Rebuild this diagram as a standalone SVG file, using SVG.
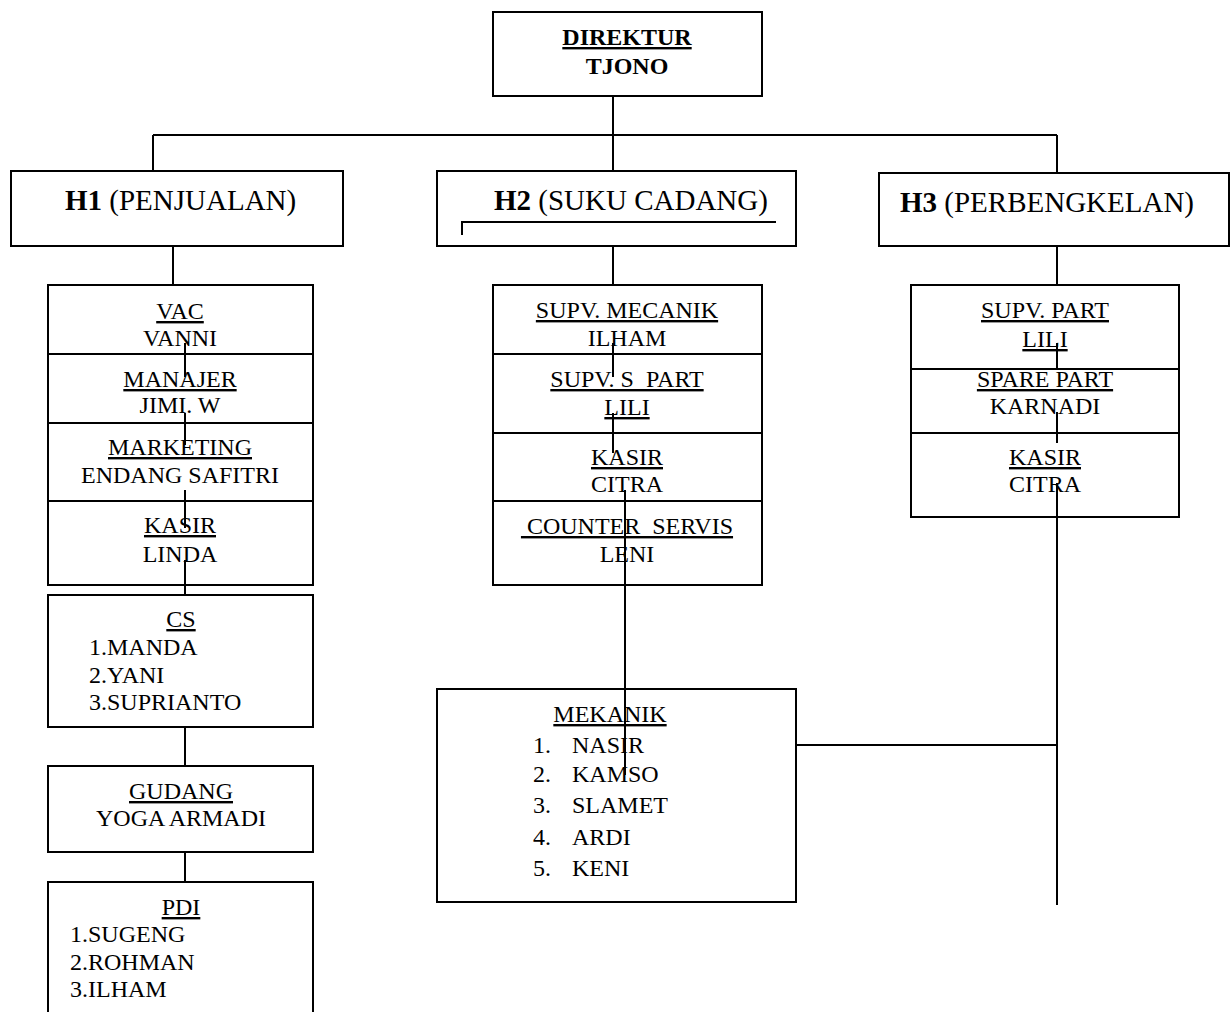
<svg xmlns="http://www.w3.org/2000/svg" width="1230" height="1012" viewBox="0 0 1230 1012">
<style>
.box{fill:none;stroke:#000;stroke-width:2}
.ln{fill:none;stroke:#000;stroke-width:2}
text{font-family:"Liberation Serif","Times New Roman",serif;font-size:24px;fill:#000}
.c{text-anchor:middle}
.u{text-decoration:underline}
.b{font-weight:bold}
.h{font-size:29px}
</style>
<rect width="1230" height="1012" fill="#fff"/>
<g id="connectors">
<path class="ln" d="M613 96V171M153 135H1057M153 135V171M1057 135V173"/>
<path class="ln" d="M173 246V285M613 246V285M1057 246V285"/>
<path class="ln" d="M185 343V377M185 413V445M185 490V528M185 560V595M185 727V766M185 852V882"/>
<path class="ln" d="M613 343V377M613 413V453M625 490V775"/>
<path class="ln" d="M1057 343V370M1057 412V443M1057 483V905M796 745H1057"/>
<path class="ln" d="M462 235V222H776"/>
</g>
<g id="direktur">
<rect class="box" x="493" y="12" width="269" height="84"/>
<text class="c b u" x="627" y="45">DIREKTUR</text>
<text class="c b" x="627" y="74">TJONO</text>
</g>
<g id="h1">
<rect class="box" x="11" y="171" width="332" height="75"/>
<text class="h" x="65" y="210"><tspan class="b">H1</tspan> (PENJUALAN)</text>
</g>
<g id="h2">
<rect class="box" x="437" y="171" width="359" height="75"/>
<text class="h" x="494" y="210"><tspan class="b">H2</tspan> (SUKU CADANG)</text>
</g>
<g id="h3">
<rect class="box" x="879" y="173" width="350" height="73"/>
<text class="h" x="900" y="212"><tspan class="b">H3</tspan> (PERBENGKELAN)</text>
</g>
<g id="h1-staff">
<rect class="box" x="48" y="285" width="265" height="300"/>
<path class="ln" d="M48 354H313M48 423H313M48 501H313"/>
<text class="c u" x="180" y="319">VAC</text>
<text class="c" x="180" y="346">VANNI</text>
<text class="c u" x="180" y="387">MANAJER</text>
<text class="c" x="180" y="413">JIMI. W</text>
<text class="c u" x="180" y="455">MARKETING</text>
<text class="c" x="180" y="483">ENDANG SAFITRI</text>
<text class="c u" x="180" y="533">KASIR</text>
<text class="c" x="180" y="562">LINDA</text>
</g>
<g id="cs">
<rect class="box" x="48" y="595" width="265" height="132"/>
<text class="c u" x="181" y="627">CS</text>
<text x="89" y="655">1.MANDA</text>
<text x="89" y="683">2.YANI</text>
<text x="89" y="710">3.SUPRIANTO</text>
</g>
<g id="gudang">
<rect class="box" x="48" y="766" width="265" height="86"/>
<text class="c u" x="181" y="799">GUDANG</text>
<text class="c" x="181" y="826">YOGA ARMADI</text>
</g>
<g id="pdi">
<rect class="box" x="48" y="882" width="265" height="140"/>
<text class="c u" x="181" y="915">PDI</text>
<text x="70" y="942">1.SUGENG</text>
<text x="70" y="970">2.ROHMAN</text>
<text x="70" y="997">3.ILHAM</text>
</g>
<g id="h2-staff">
<rect class="box" x="493" y="285" width="269" height="300"/>
<path class="ln" d="M493 354H762M493 433H762M493 501H762"/>
<text class="c u" x="627" y="318">SUPV. MECANIK</text>
<text class="c" x="627" y="346">ILHAM</text>
<text class="c u" x="627" y="387" xml:space="preserve">SUPV. S  PART</text>
<text class="c u" x="627" y="415">LILI</text>
<text class="c u" x="627" y="465">KASIR</text>
<text class="c" x="627" y="492">CITRA</text>
<text class="c u" x="627" y="534" xml:space="preserve"> COUNTER  SERVIS</text>
<text class="c" x="627" y="562">LENI</text>
</g>
<g id="mekanik">
<rect class="box" x="437" y="689" width="359" height="213"/>
<text class="c u" x="610" y="722">MEKANIK</text>
<text x="533" y="753">1.</text><text x="572" y="753">NASIR</text>
<text x="533" y="782">2.</text><text x="572" y="782">KAMSO</text>
<text x="533" y="813">3.</text><text x="572" y="813">SLAMET</text>
<text x="533" y="845">4.</text><text x="572" y="845">ARDI</text>
<text x="533" y="876">5.</text><text x="572" y="876">KENI</text>
</g>
<g id="h3-staff">
<rect class="box" x="911" y="285" width="268" height="232"/>
<path class="ln" d="M911 369H1179M911 433H1179"/>
<text class="c u" x="1045" y="318">SUPV. PART</text>
<text class="c u" x="1045" y="347">LILI</text>
<text class="c u" x="1045" y="387">SPARE PART</text>
<text class="c" x="1045" y="414">KARNADI</text>
<text class="c u" x="1045" y="465">KASIR</text>
<text class="c" x="1045" y="492">CITRA</text>
</g>
</svg>
